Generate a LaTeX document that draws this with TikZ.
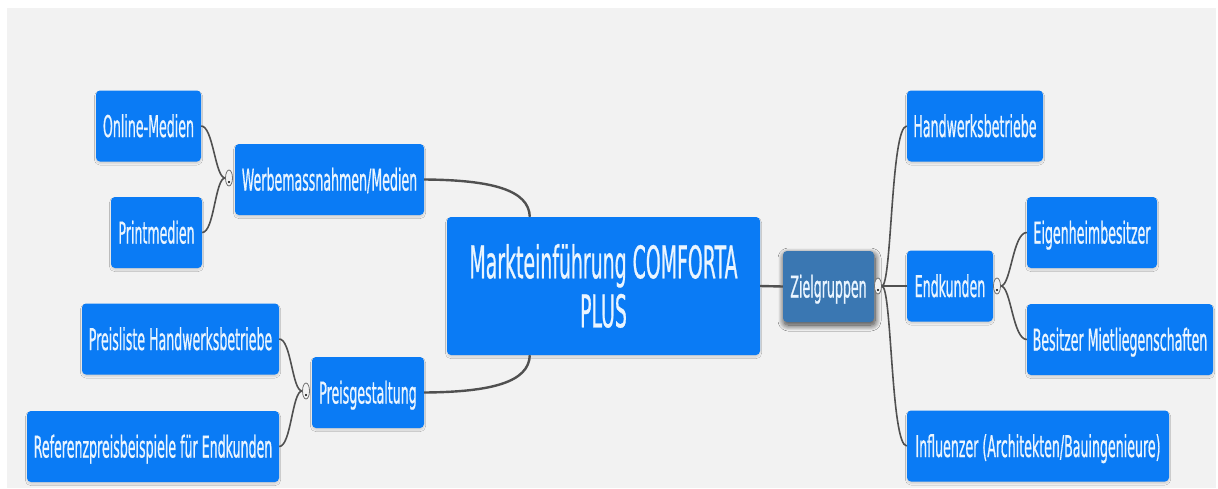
\documentclass[tikz,border=0pt]{standalone}
\usepackage{fontspec}
\setmainfont{DejaVu Sans}[FakeStretch=0.42, FakeBold=0.5]
\usetikzlibrary{shapes.geometric,shadows.blur}

\definecolor{canvas}{RGB}{242,242,242}
\definecolor{topic}{RGB}{10,123,245}
\definecolor{group}{RGB}{58,119,178}
\definecolor{label}{RGB}{234,245,255}
\definecolor{branch}{RGB}{80,80,80}

\begin{document}
\begin{tikzpicture}[x=1pt, y=-1pt,
    topicbox/.style={rectangle, rounded corners=4pt, fill=topic, text=label, inner sep=0pt,
        minimum height=71pt, text height=22pt, text depth=0pt,
        font=\fontsize{30}{34}\selectfont,
        blur shadow={shadow xshift=0pt, shadow yshift=-2pt, shadow blur radius=1.5pt,
            shadow blur steps=8, shadow opacity=14}},
    rootbox/.style={topicbox, minimum width=313pt, minimum height=138pt, align=center,
        text height=, text depth=, font=\fontsize{45}{49}\selectfont},
    groupbox/.style={topicbox, fill=group,
        blur shadow={shadow xshift=1pt, shadow yshift=-3pt, shadow blur radius=6pt,
            shadow blur steps=12, shadow opacity=45}},
    knob/.style={ellipse, draw=branch!80, fill=canvas, line width=0.8pt,
        minimum width=7pt, minimum height=16pt, inner sep=0pt},
    mainline/.style={draw=branch, line width=2.4pt},
    branchline/.style={draw=branch, line width=1.6pt}]

    % Canvas
    \useasboundingbox (0,0) rectangle (1218,488);
    \fill[white] (0,0) rectangle (1218,488);
    \fill[canvas] (7,8) rectangle (1216,488);

    % Central topic
    \node[rootbox] (markt) at (603.5,286) {Markteinführung COMFORTA\\PLUS};

    % Left side
    \node[topicbox, minimum width=189pt] (werbung) at (329.5,179.5) {Werbemassnahmen/Medien};
    \node[topicbox, minimum width=105pt] (online) at (148.5,126) {Online-Medien};
    \node[topicbox, minimum width=91pt] (print) at (156.5,232.5) {Printmedien};

    \node[topicbox, minimum width=112pt] (preise) at (368,392.5) {Preisgestaltung};
    \node[topicbox, minimum width=197pt] (preisliste) at (180.5,339) {Preisliste Handwerksbetriebe};
    \node[topicbox, minimum width=252pt] (referenz) at (153,446.5) {Referenzpreisbeispiele für Endkunden};

    % Right side
    \node[groupbox, minimum width=91pt] (ziel) at (828.5,286.5) {Zielgruppen};
    \node[topicbox, minimum width=136pt] (handwerk) at (975,126) {Handwerksbetriebe};
    \node[topicbox, minimum width=86pt] (endkunden) at (950,286) {Endkunden};
    \node[topicbox, minimum width=262pt] (influenzer) at (1038,446) {Influenzer (Architekten/Bauingenieure)};
    \node[topicbox, minimum width=130pt] (eigenheim) at (1092,232.5) {Eigenheimbesitzer};
    \node[topicbox, minimum width=186pt] (miete) at (1120,339.5) {Besitzer Mietliegenschaften};

    % Collapse knobs
    \node[knob] (kw) at (229,178) {};
    \node[knob] (kp) at (306,391) {};
    \node[knob] (kz) at (878,286) {};
    \node[knob] (ke) at (997,286) {};
    \foreach \k in {kw,kp,kz,ke}
        \fill[black] ([yshift=-4pt]\k.center) circle (1.1pt);

    % Main branches
    \draw[mainline] (werbung.east) .. controls (492,180) and (529,190) .. ([xshift=83pt]markt.north west);
    \draw[mainline] (preise.east) .. controls (492,392) and (529,382) .. ([xshift=83pt]markt.south west);
    \draw[mainline] (markt.east) -- (ziel.west);

    % Sub branches
    \draw[branchline] (kw.west) .. controls +(-10,0) and +(12,0) .. (online.east);
    \draw[branchline] (kw.west) .. controls +(-10,0) and +(12,0) .. (print.east);
    \draw[branchline] (kp.west) .. controls +(-10,0) and +(12,0) .. (preisliste.east);
    \draw[branchline] (kp.west) .. controls +(-10,0) and +(12,0) .. (referenz.east);
    \draw[branchline] (kz.east) .. controls +(10,0) and +(-16,0) .. (handwerk.west);
    \draw[branchline] (kz.east) -- (endkunden.west);
    \draw[branchline] (kz.east) .. controls +(10,0) and +(-16,0) .. (influenzer.west);
    \draw[branchline] (ke.east) .. controls +(10,0) and +(-14,0) .. (eigenheim.west);
    \draw[branchline] (ke.east) .. controls +(10,0) and +(-14,0) .. (miete.west);
\end{tikzpicture}
\end{document}
